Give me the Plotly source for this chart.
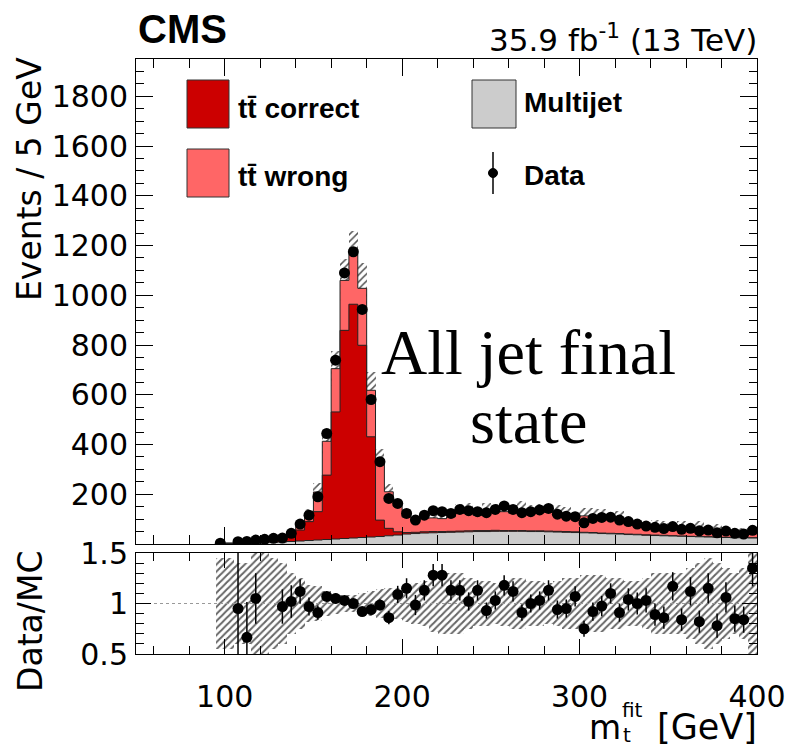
import plotly.graph_objects as go

# ---------------- data ----------------
bin_width = 5
bin_low_edges = list(range(95, 400, 5))          # 61 bins: 95..400 GeV

data_events = [3, None, 9, 10, 16, 19, 23, 24, 43, 80,
               116, 190, 444, 739, 1090, 1175, 943, 581, 331, 183,
               163, 123, 96, 116, 134, 130, 123, 139, 134, 130,
               126, 139, 153, 139, 126, 130, 137, 143, 120, 112,
               110, 85, 103, 107, 108, 96, 90, 80, 72, 67,
               62, 70, 59, 63, 53, 56, 45, 52, 43, 40,
               55]

multijet = [1, 2, 3, 4, 5, 6, 7, 8, 10, 12,
            14, 16, 18, 20, 22, 24, 26, 28, 30, 33,
            36, 40, 42, 44, 45, 46, 47, 48, 49, 50,
            50, 51, 51, 51, 51, 50, 50, 49, 48, 47,
            46, 45, 44, 42, 41, 40, 38, 37, 35, 34,
            33, 32, 31, 30, 29, 28, 27, 26, 25, 25,
            24]

tt_correct = [0.5, 1, 3, 5, 5, 6, 7, 8, 19, 44,
              76, 114, 259, 511, 837, 940, 773, 403, 66, 30,
              13, 6, 5, 5, 5, 4, 4, 4, 4, 4,
              4, 4, 3, 3, 3, 3, 3, 3, 3, 3,
              3, 2, 2, 2, 2, 2, 2, 2, 2, 2,
              2, 1, 1, 1, 1, 1, 1, 1, 1, 1,
              1]

tt_wrong = [0.5, 1, 3.5, 6, 5, 6, 7, 9, 13, 16,
            30, 79, 136, 174, 201, 201, 229, 187, 240, 147,
            103, 62, 50, 54, 55, 52, 58, 71, 78, 61,
            81, 80, 76, 70, 84, 77, 80, 75, 77, 68,
            54, 66, 66, 66, 55, 63, 47, 41, 33, 39,
            37, 27, 38, 25, 35, 20, 30, 22, 25, 22,
            16]

mc_rel_unc = [0.45, 0.45, 0.4, 0.4, 0.5, 0.5, 0.45, 0.4, 0.3, 0.25,
              0.18, 0.17, 0.12, 0.1, 0.08, 0.08, 0.1, 0.12, 0.14, 0.15,
              0.15, 0.18, 0.2, 0.22, 0.28, 0.3, 0.3, 0.3, 0.25, 0.22,
              0.22, 0.2, 0.22, 0.25, 0.25, 0.22, 0.22, 0.2, 0.22, 0.25,
              0.25, 0.28, 0.28, 0.28, 0.25, 0.25, 0.22, 0.22, 0.25, 0.3,
              0.3, 0.3, 0.3, 0.35, 0.4, 0.45, 0.4, 0.35, 0.3, 0.35,
              0.5]

ratio = [None, None, 0.95, 0.665, 1.05, None, None, 0.97, 1.02, 1.12,
         0.97, 0.91, 1.07, 1.05, 1.03, 1.00, 0.92, 0.94, 0.985, 0.86,
         1.09, 1.15, 0.985, 1.13, 1.28, 1.28, 1.13, 1.13, 1.02, 1.13,
         0.93, 1.03, 1.18, 1.12, 0.91, 1.00, 1.03, 1.13, 0.94, 0.95,
         1.07, 0.75, 0.92, 0.975, 1.10, 0.91, 1.04, 1.00, 1.03, 0.89,
         0.86, 1.17, 0.84, 1.12, 0.82, 1.15, 0.78, 1.06, 0.85, 0.84,
         1.35]

ratio_err = [0, 0, 1.0, 0.35, 0.25, 0, 0, 0.17, 0.16, 0.12,
             0.09, 0.07, 0.05, 0.04, 0.03, 0.03, 0.03, 0.04, 0.055, 0.065,
             0.085, 0.1, 0.1, 0.1, 0.11, 0.11, 0.1, 0.1, 0.09, 0.1,
             0.08, 0.09, 0.1, 0.1, 0.08, 0.09, 0.09, 0.1, 0.09, 0.09,
             0.1, 0.08, 0.09, 0.1, 0.1, 0.09, 0.11, 0.11, 0.12, 0.11,
             0.11, 0.14, 0.11, 0.14, 0.11, 0.15, 0.12, 0.15, 0.13, 0.13,
             0.18]

x_ticks = [100, 200, 300, 400]
y_ticks = [200, 400, 600, 800, 1000, 1200, 1400, 1600, 1800]
ratio_ticks = [0.5, 1, 1.5]
ratio_ticktext = ["0.5", "1", "1.5"]

# ---------------- derived quantities ----------------
centers = [e + bin_width / 2 for e in bin_low_edges]
edges = bin_low_edges + [bin_low_edges[-1] + bin_width]

lvl_mj = list(multijet)
lvl_corr = [a + b for a, b in zip(lvl_mj, tt_correct)]
lvl_tot = [a + b for a, b in zip(lvl_corr, tt_wrong)]

def step(v):
    return v + [v[-1]]

# ---------------- style ----------------
FONT = "DejaVu Sans, Verdana, sans-serif"
BFONT = "Liberation Sans, Arial, Helvetica, sans-serif"
SERIF = "Liberation Serif, Times New Roman, serif"
C_CORR = "#cc0000"
C_WRONG = "#ff6666"
C_MJ = "#cccccc"
OUTLINE = "#222222"

W, H = 788, 750
L, R, T, B = 136, 31, 59, 96
PW, PH = W - L - R, H - T - B

def px_x(x):
    return (x - L) / PW

def px_y(y):
    return (H - B - y) / PH

main_dom = [px_y(544), 1.0]
ratio_dom = [0.0, px_y(553)]

fig = go.Figure()

# stacked histograms (top layer first, lower layers drawn over it)
for lvl, col in [(lvl_tot, C_WRONG), (lvl_corr, C_CORR), (lvl_mj, C_MJ)]:
    fig.add_trace(go.Scatter(
        x=edges, y=step(lvl), mode="lines", line=dict(shape="hv", color=OUTLINE, width=1),
        fill="tozeroy", fillcolor=col, xaxis="x", yaxis="y", showlegend=False,
        hoverinfo="skip"))

# MC uncertainty hatch (main)
fig.add_trace(go.Bar(
    x=centers, y=[2 * t * u for t, u in zip(lvl_tot, mc_rel_unc)],
    base=[t * (1 - u) for t, u in zip(lvl_tot, mc_rel_unc)],
    width=bin_width, xaxis="x", yaxis="y", showlegend=False,
    marker=dict(color="rgba(0,0,0,0)", line=dict(width=0),
                pattern=dict(shape="/", fgcolor="#555555", bgcolor="rgba(0,0,0,0)",
                             size=5, solidity=0.3, fillmode="replace")),
    hoverinfo="skip"))

# data points main
fig.add_trace(go.Scatter(
    x=centers, y=data_events, mode="markers",
    marker=dict(color="black", size=11), xaxis="x", yaxis="y", showlegend=False))

# ratio panel: unity line
fig.add_trace(go.Scatter(
    x=[50, 400], y=[1, 1], mode="lines", line=dict(color="#999999", width=1, dash="dot"),
    xaxis="x2", yaxis="y2", showlegend=False, hoverinfo="skip"))

# ratio uncertainty band
fig.add_trace(go.Bar(
    x=centers, y=[2 * u for u in mc_rel_unc], base=[1 - u for u in mc_rel_unc],
    width=bin_width, xaxis="x2", yaxis="y2", showlegend=False,
    marker=dict(color="rgba(0,0,0,0)", line=dict(width=0),
                pattern=dict(shape="/", fgcolor="#666666", bgcolor="rgba(0,0,0,0)",
                             size=5, solidity=0.4, fillmode="replace")),
    hoverinfo="skip"))

# ratio points
fig.add_trace(go.Scatter(
    x=centers, y=ratio, mode="markers",
    marker=dict(color="black", size=11),
    error_y=dict(type="data", array=ratio_err, visible=True, color="black", thickness=1.5, width=0),
    xaxis="x2", yaxis="y2", showlegend=False))

axis_common = dict(showline=True, linecolor="black", linewidth=1, mirror="ticks",
                   ticks="inside", tickcolor="black", tickwidth=1,
                   showgrid=False, zeroline=False, automargin=False)

fig.update_layout(
    template="none",
    width=W, height=H,
    margin=dict(l=L, r=R, t=T, b=B, pad=0, autoexpand=False),
    paper_bgcolor="white", plot_bgcolor="white",
    font=dict(family=FONT, size=30, color="black"),
    barmode="overlay", bargap=0,
    showlegend=False,
    xaxis=dict(domain=[0, 1], anchor="y", range=[50, 400], tickvals=x_ticks,
               showticklabels=False, ticklen=17,
               minor=dict(ticks="inside", dtick=20, tick0=0, ticklen=9, tickcolor="black"),
               **axis_common),
    yaxis=dict(domain=main_dom, anchor="x", range=[0, 1950], tickvals=y_ticks,
               ticklen=17, tickfont=dict(size=30), ticklabelstandoff=1,
               minor=dict(ticks="inside", dtick=50, tick0=0, ticklen=8, tickcolor="black"),
               **axis_common),
    xaxis2=dict(domain=[0, 1], anchor="y2", range=[50, 400], matches="x", tickvals=x_ticks,
                ticklen=15, tickfont=dict(size=30), ticklabelstandoff=16,
                minor=dict(ticks="inside", dtick=20, tick0=0, ticklen=8, tickcolor="black"),
                **axis_common),
    yaxis2=dict(domain=ratio_dom, anchor="x2", range=[0.5, 1.5], tickvals=ratio_ticks,
                ticktext=ratio_ticktext, ticklen=15, tickfont=dict(size=30), ticklabelstandoff=1,
                minor=dict(ticks="inside", dtick=0.1, tick0=0, ticklen=8, tickcolor="black"),
                **axis_common),
)

ann = []
def add_text(text, x, y, xanchor="left", yanchor="middle", size=30, family=FONT, angle=0, bold=False):
    if bold:
        text = "<b>" + text + "</b>"
    ann.append(dict(text=text, x=px_x(x), y=px_y(y), xref="paper", yref="paper",
                    xanchor=xanchor, yanchor=yanchor, showarrow=False, textangle=angle,
                    font=dict(size=size, family=family, color="black")))

add_text("CMS", 136, 29, size=40, family=BFONT, bold=True)
add_text("35.9 fb<sup>-1</sup> (13 TeV)", 759, 38, xanchor="right", size=31)
add_text("Events / 5 GeV", 30, 179, xanchor="center", size=33, angle=-90)
add_text("Data/MC", 30, 622, xanchor="center", size=33, angle=-90)
# x-axis title: m with stacked super/subscript
add_text("[GeV]", 759, 727, xanchor="right", size=35)
add_text("m", 587, 727, xanchor="left", size=33)
add_text("fit", 620, 710, xanchor="left", size=20)
add_text("t", 621, 735, xanchor="left", size=20)
add_text("All jet final", 528, 352, xanchor="center", size=64, family=SERIF)
add_text("state", 528, 421, xanchor="center", size=64, family=SERIF)

# legend
add_text("tt\u0304 correct", 236, 108, size=28, family=BFONT, bold=True)
add_text("tt\u0304 wrong", 236, 176, size=28, family=BFONT, bold=True)
add_text("Multijet", 522, 103, size=28, family=BFONT, bold=True)
add_text("Data", 522, 175, size=28, family=BFONT, bold=True)

shapes = []
def rect(x0, y0, x1, y1, col):
    shapes.append(dict(type="rect", xref="paper", yref="paper",
                       x0=px_x(x0), x1=px_x(x1), y0=px_y(y1), y1=px_y(y0),
                       fillcolor=col, line=dict(color="#333333", width=1)))
rect(187, 80, 229, 128, C_CORR)
rect(187, 149, 229, 197, C_WRONG)
rect(472, 80, 516, 128, C_MJ)
shapes.append(dict(type="line", xref="paper", yref="paper", x0=px_x(493), x1=px_x(493),
                   y0=px_y(152), y1=px_y(194), line=dict(color="black", width=1.5)))
shapes.append(dict(type="circle", xref="paper", yref="paper",
                   x0=px_x(488.5), x1=px_x(497.5), y0=px_y(177.5), y1=px_y(168.5),
                   fillcolor="black", line=dict(color="black", width=1)))

fig.update_layout(annotations=ann, shapes=shapes)
fig.write_html("out.html")
